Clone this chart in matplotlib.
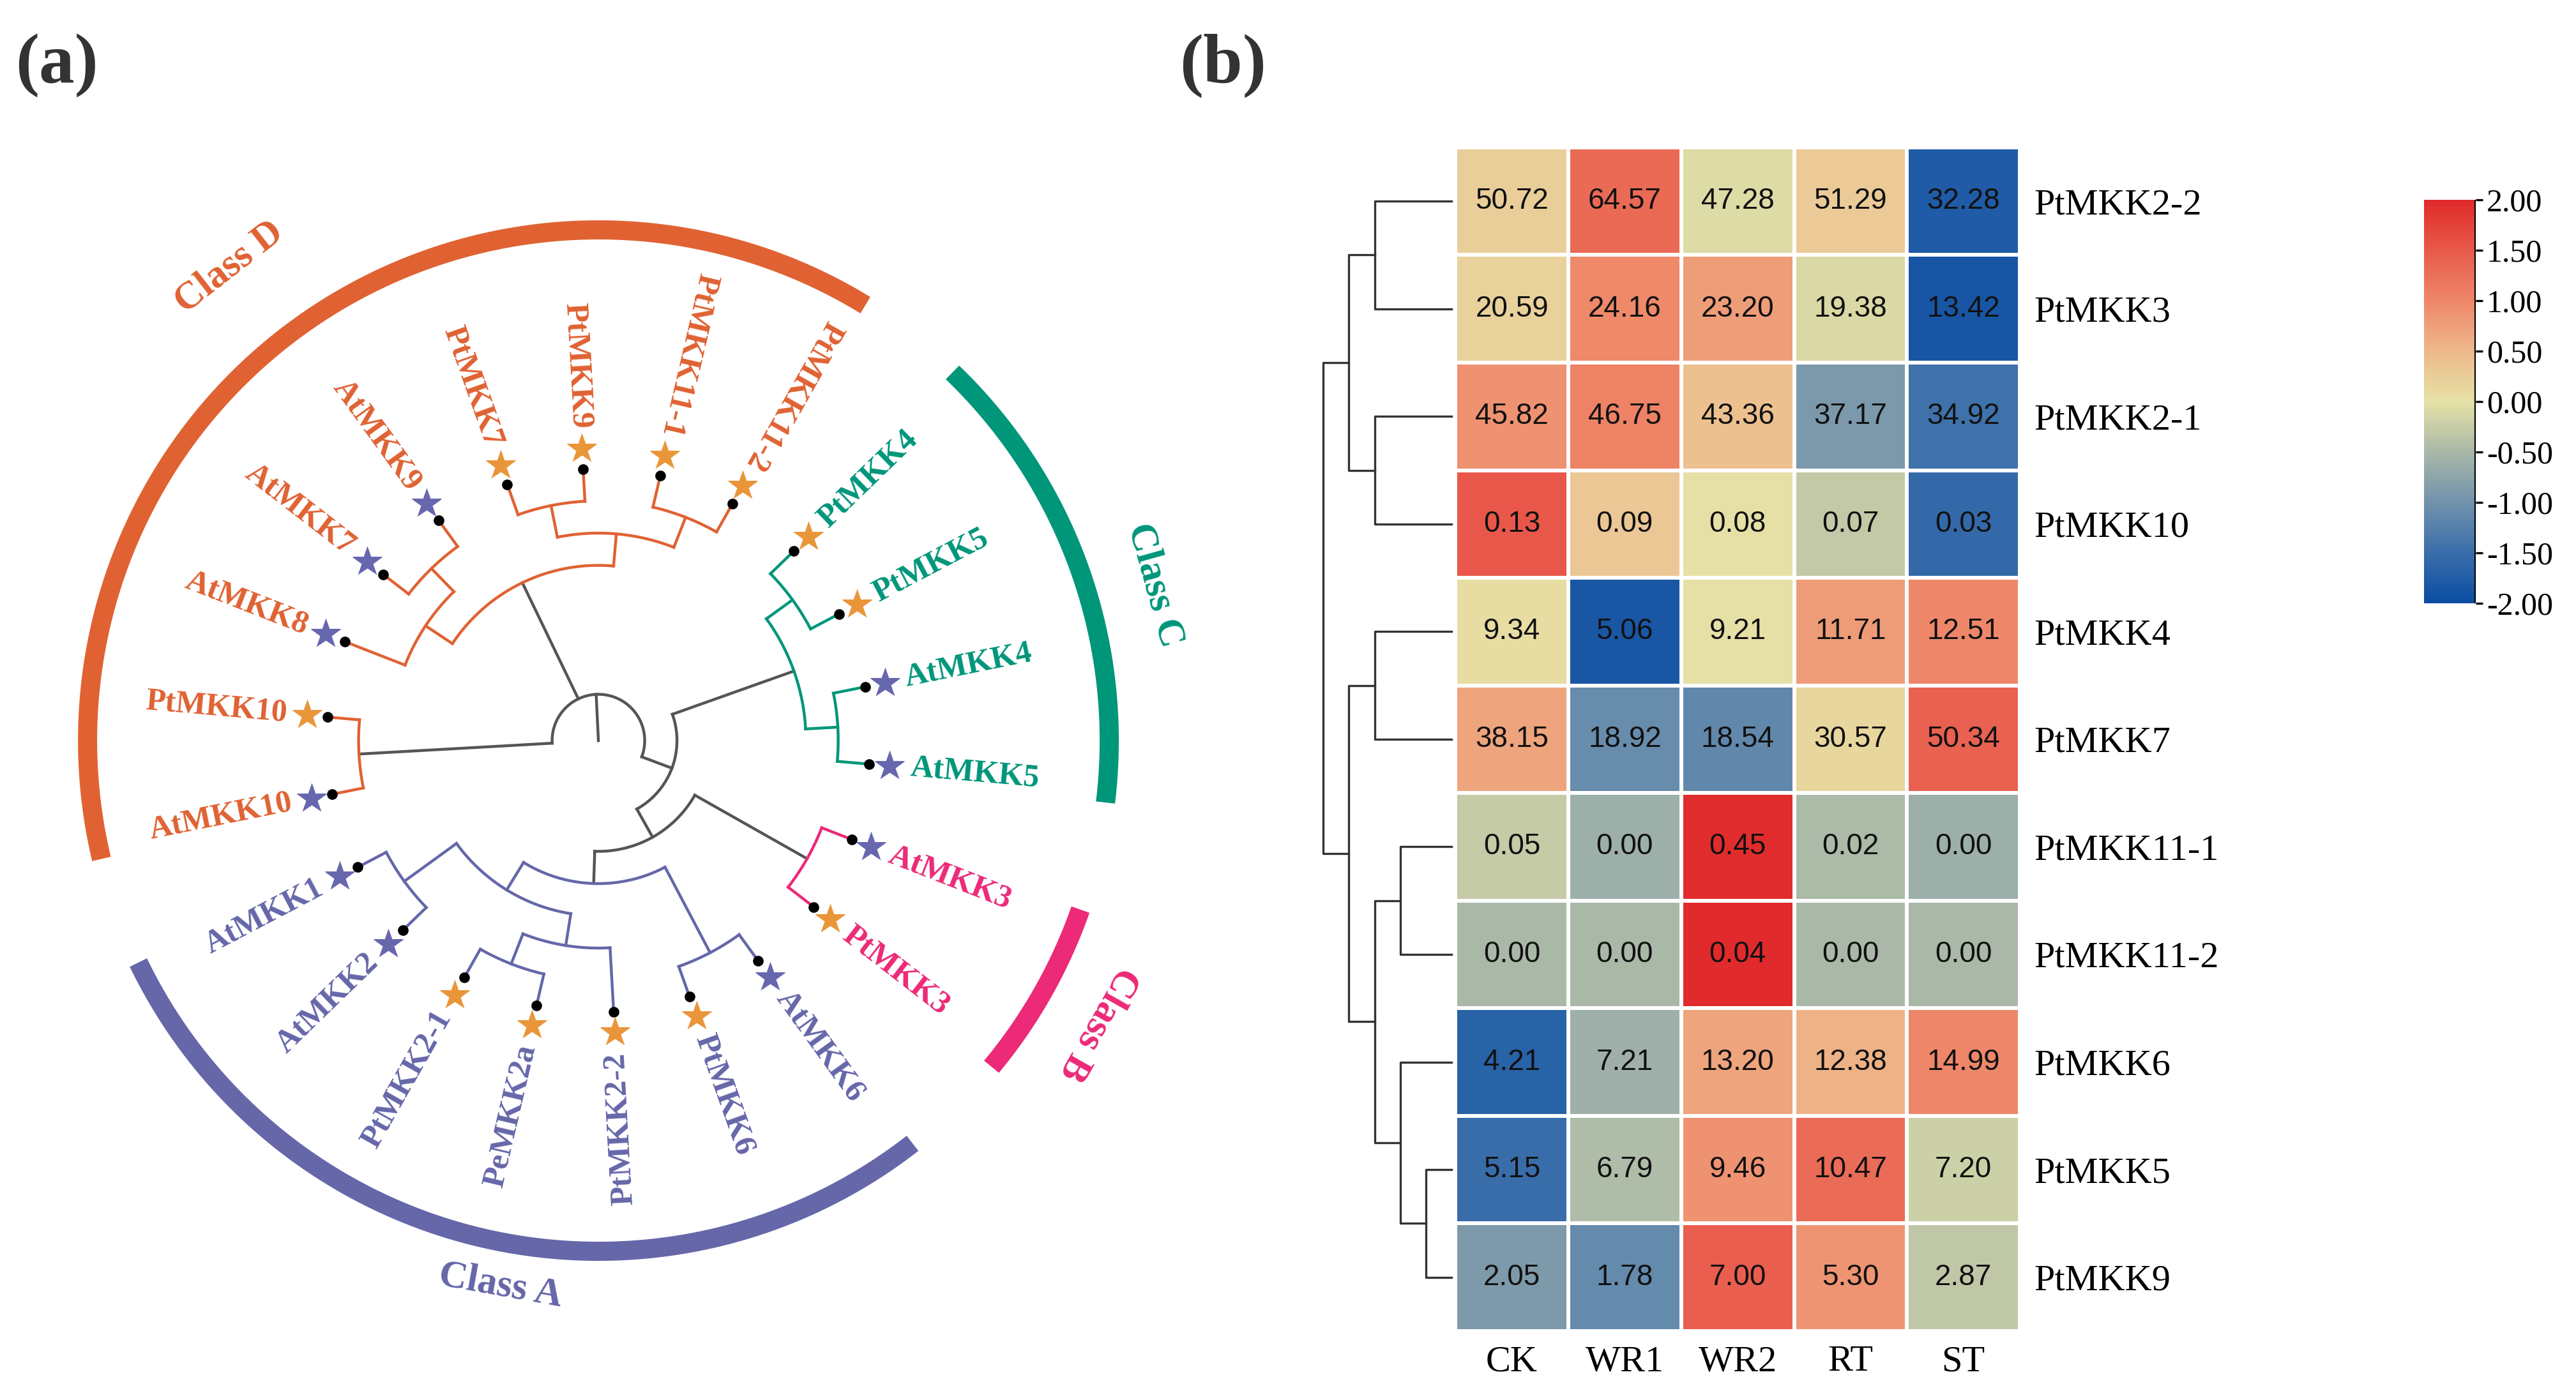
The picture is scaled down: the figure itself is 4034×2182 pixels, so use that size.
import numpy as np
import matplotlib
matplotlib.use('Agg')
import matplotlib.pyplot as plt
from matplotlib.colors import LinearSegmentedColormap, Normalize
from matplotlib.ticker import FormatStrFormatter

plt.rcParams.update({
    'font.family': ['Liberation Serif', 'DejaVu Serif'],
    'axes.unicode_minus': False,
})

# ---------------- (a) arbol filogenetico ----------------
# topologia; el orden de hojas sigue el sentido horario empezando en AtMKK10
arbol = (("AtMKK10", "PtMKK10"),
         (("AtMKK8", ("AtMKK7", "AtMKK9")),
          (("PtMKK7", "PtMKK9"), ("PtMKK11-1", "PtMKK11-2"))),
         ((("PtMKK4", "PtMKK5"), ("AtMKK4", "AtMKK5")),
          (("AtMKK3", "PtMKK3"),
           (("AtMKK6", "PtMKK6"),
            (("PtMKK2-2", ("PeMKK2a", "PtMKK2-1")), ("AtMKK2", "AtMKK1"))))))

clases = ['Class D', 'Class C', 'Class B', 'Class A']
miembros_d = ["AtMKK10", "PtMKK10", "AtMKK8", "AtMKK7", "AtMKK9",
              "PtMKK7", "PtMKK9", "PtMKK11-1", "PtMKK11-2"]
miembros_c = ["PtMKK4", "PtMKK5", "AtMKK4", "AtMKK5"]
miembros_b = ["AtMKK3", "PtMKK3"]
miembros_a = ["AtMKK6", "PtMKK6", "PtMKK2-2", "PeMKK2a", "PtMKK2-1", "AtMKK2", "AtMKK1"]
miembros = [miembros_d, miembros_c, miembros_b, miembros_a]
colores_clase = ['#E06233', '#00967A', '#EC2A78', '#6567A9']
color_gris = '#555555'
color_estrella = {'At': '#6767AE', 'Pt': '#E9963A', 'Pe': '#E9963A'}
# ajuste fino de la posicion de los rotulos de clase (grados, radio)
desfase_rotulo = [2.0, -4.0, 0.0, 3.0]
radio_rotulo = [940, 905, 900, 868]

# ---------------- (b) mapa de calor ----------------
genes = ['PtMKK2-2', 'PtMKK3', 'PtMKK2-1', 'PtMKK10', 'PtMKK4', 'PtMKK7',
         'PtMKK11-1', 'PtMKK11-2', 'PtMKK6', 'PtMKK5', 'PtMKK9']
tratamientos = ['CK', 'WR1', 'WR2', 'RT', 'ST']
ck = [50.72, 20.59, 45.82, 0.13, 9.34, 38.15, 0.05, 0.00, 4.21, 5.15, 2.05]
wr1 = [64.57, 24.16, 46.75, 0.09, 5.06, 18.92, 0.00, 0.00, 7.21, 6.79, 1.78]
wr2 = [47.28, 23.20, 43.36, 0.08, 9.21, 18.54, 0.45, 0.04, 13.20, 9.46, 7.00]
rt = [51.29, 19.38, 37.17, 0.07, 11.71, 30.57, 0.02, 0.00, 12.38, 10.47, 5.30]
st = [32.28, 13.42, 34.92, 0.03, 12.51, 50.34, 0.00, 0.00, 14.99, 7.20, 2.87]
# dendrograma de filas: (cluster a, cluster b, distancia); ids nuevos desde 11
uniones = [(0, 1, 3), (2, 3, 3), (11, 12, 4), (4, 5, 3), (6, 7, 2),
           (9, 10, 1), (8, 16, 2), (15, 17, 3), (14, 18, 4), (13, 19, 5)]
ticks_barra = [-2.0, -1.5, -1.0, -0.5, 0.0, 0.5, 1.0, 1.5, 2.0]
colores_barra = ['#0A4DA3', '#3A6EAA', '#7293AC', '#A9B8A8', '#E6E1A6',
                 '#EEB98C', '#EE8769', '#E85A4B', '#E02A2B']


fig = plt.figure(figsize=(20.17, 10.91), dpi=200)

# ===== arbol circular =====
ax = fig.add_axes([0.0092, 0.0559, 0.4462, 0.8249], projection='polar')
ax.set_ylim(0, 900)
ax.set_axis_off()

hojas = []


def recorrer(n):
    if isinstance(n, str):
        hojas.append(n)
    else:
        for c in n:
            recorrer(c)


recorrer(arbol)
ang0 = 191.4
angulo = {h: np.radians(ang0 - i * 360.0 / len(hojas)) for i, h in enumerate(hojas)}
clase_de = {h: k for k, m in enumerate(miembros) for h in m}

r_hoja = 426.0
paso = 50.5
lw_rama = 1.6


def info(n):
    if isinstance(n, str):
        return angulo[n], 0, [n]
    sub = [info(c) for c in n]
    a = np.mean([s[0] for s in sub])
    h = 1 + max(s[1] for s in sub)
    hs = sum((s[2] for s in sub), [])
    return a, h, hs


def color_nodo(hs):
    ks = set(clase_de[h] for h in hs)
    return colores_clase[ks.pop()] if len(ks) == 1 else color_gris


def dibujar(n):
    a, h, hs = info(n)
    r = r_hoja - paso * h
    col = color_nodo(hs)
    sub = [info(c) for c in n]
    angs = [s[0] for s in sub]
    t = np.linspace(min(angs), max(angs), 100)
    ax.plot(t, np.full_like(t, r), color=col, lw=lw_rama)
    for c, (ca, ch, chs) in zip(n, sub):
        ax.plot([ca, ca], [r, r_hoja - paso * ch], color=col, lw=lw_rama)
        if not isinstance(c, str):
            dibujar(c)


dibujar(arbol)
a_raiz, h_raiz, _ = info(arbol)
ax.plot([a_raiz, a_raiz], [0, r_hoja - paso * h_raiz], color=color_gris, lw=lw_rama)

# puntas, estrellas y etiquetas
for h in hojas:
    t = angulo[h]
    ax.plot(t, r_hoja, 'o', color='black', ms=5, zorder=4)
    ax.plot(t, 458, '*', color=color_estrella[h[:2]], ms=18, mec='none', zorder=4)
    deg = np.degrees(t) % 360
    if 50 < deg < 280:
        rot, ha = deg - 180, 'right'
    else:
        rot, ha = deg, 'left'
    ax.text(t, 490, h, rotation=rot, rotation_mode='anchor', ha=ha, va='center',
            fontsize=18, fontweight='bold', color=colores_clase[clase_de[h]])

# arcos de clase
for k, m in enumerate(miembros):
    angs = [np.degrees(angulo[h]) for h in m]
    t = np.radians(np.linspace(min(angs) - 2, max(angs) + 2, 200))
    ax.plot(t, np.full_like(t, 800), color=colores_clase[k], lw=10.8,
            solid_capstyle='butt')
    mid = (min(angs) + max(angs)) / 2 + desfase_rotulo[k]
    d = mid % 360
    rot = d + 90 if 200 < d < 300 else d - 90
    ax.text(np.radians(mid), radio_rotulo[k], clases[k], rotation=rot,
            rotation_mode='anchor', ha='center', va='center', fontsize=22,
            fontweight='bold', color=colores_clase[k])

fig.text(0.006, 0.953, '(a)', fontsize=40, fontweight='bold', color='#333333',
         va='center', ha='left')
fig.text(0.458, 0.953, '(b)', fontsize=40, fontweight='bold', color='#333333',
         va='center', ha='left')

# ===== mapa de calor =====
valores = np.array([ck, wr1, wr2, rt, st]).T
lv = np.log2(valores + 1)
z = (lv - lv.mean(axis=1, keepdims=True)) / lv.std(axis=1, keepdims=True)
cmap = LinearSegmentedColormap.from_list('tb', list(zip(
    (np.array(ticks_barra) + 2) / 4, colores_barra)))
norm = Normalize(-2, 2)

axh = fig.add_axes([0.565, 0.0445, 0.2191, 0.8497])
malla = axh.pcolormesh(np.arange(len(tratamientos) + 1) - 0.5,
                       np.arange(len(genes) + 1) - 0.5, z, cmap=cmap, norm=norm,
                       edgecolors='white', linewidth=1.5)
axh.set_xlim(-0.5, len(tratamientos) - 0.5)
axh.set_ylim(len(genes) - 0.5, -0.5)
for i in range(len(genes)):
    for j in range(len(tratamientos)):
        axh.text(j, i, f'{valores[i, j]:.2f}', ha='center', va='center',
                 fontsize=16.5, family='Liberation Sans', color='#111111')
axh.set_xticks(range(len(tratamientos)))
axh.set_xticklabels(tratamientos, fontsize=21)
axh.set_yticks(range(len(genes)))
axh.set_yticklabels(genes, fontsize=21)
axh.yaxis.tick_right()
axh.tick_params(length=0, pad=8)
for s in axh.spines.values():
    s.set_visible(False)

# dendrograma de filas
axd = fig.add_axes([0.5107, 0.0445, 0.0543, 0.8497])
axd.set_xlim(5.3, -0.15)
axd.set_ylim(len(genes) - 0.5, -0.5)
axd.set_axis_off()
pos = {i: (0.0, float(i)) for i in range(len(genes))}
for k, (a, b, d) in enumerate(uniones):
    xa, ya = pos[a]
    xb, yb = pos[b]
    axd.plot([xa, d, d, xb], [ya, ya, yb, yb], color='#333333', lw=1.2)
    pos[len(genes) + k] = (d, (ya + yb) / 2)

# barra de color
cax = fig.add_axes([0.941, 0.567, 0.0201, 0.2896])
cb = fig.colorbar(malla, cax=cax, ticks=ticks_barra)
cb.outline.set_visible(False)
cax.axvline(1.0, color='black', lw=1.5)
cax.yaxis.set_major_formatter(FormatStrFormatter('%.2f'))
cax.tick_params(direction='out', length=4, width=1.2, labelsize=18, pad=2)

fig.savefig('out.png', dpi=200, facecolor='white')
